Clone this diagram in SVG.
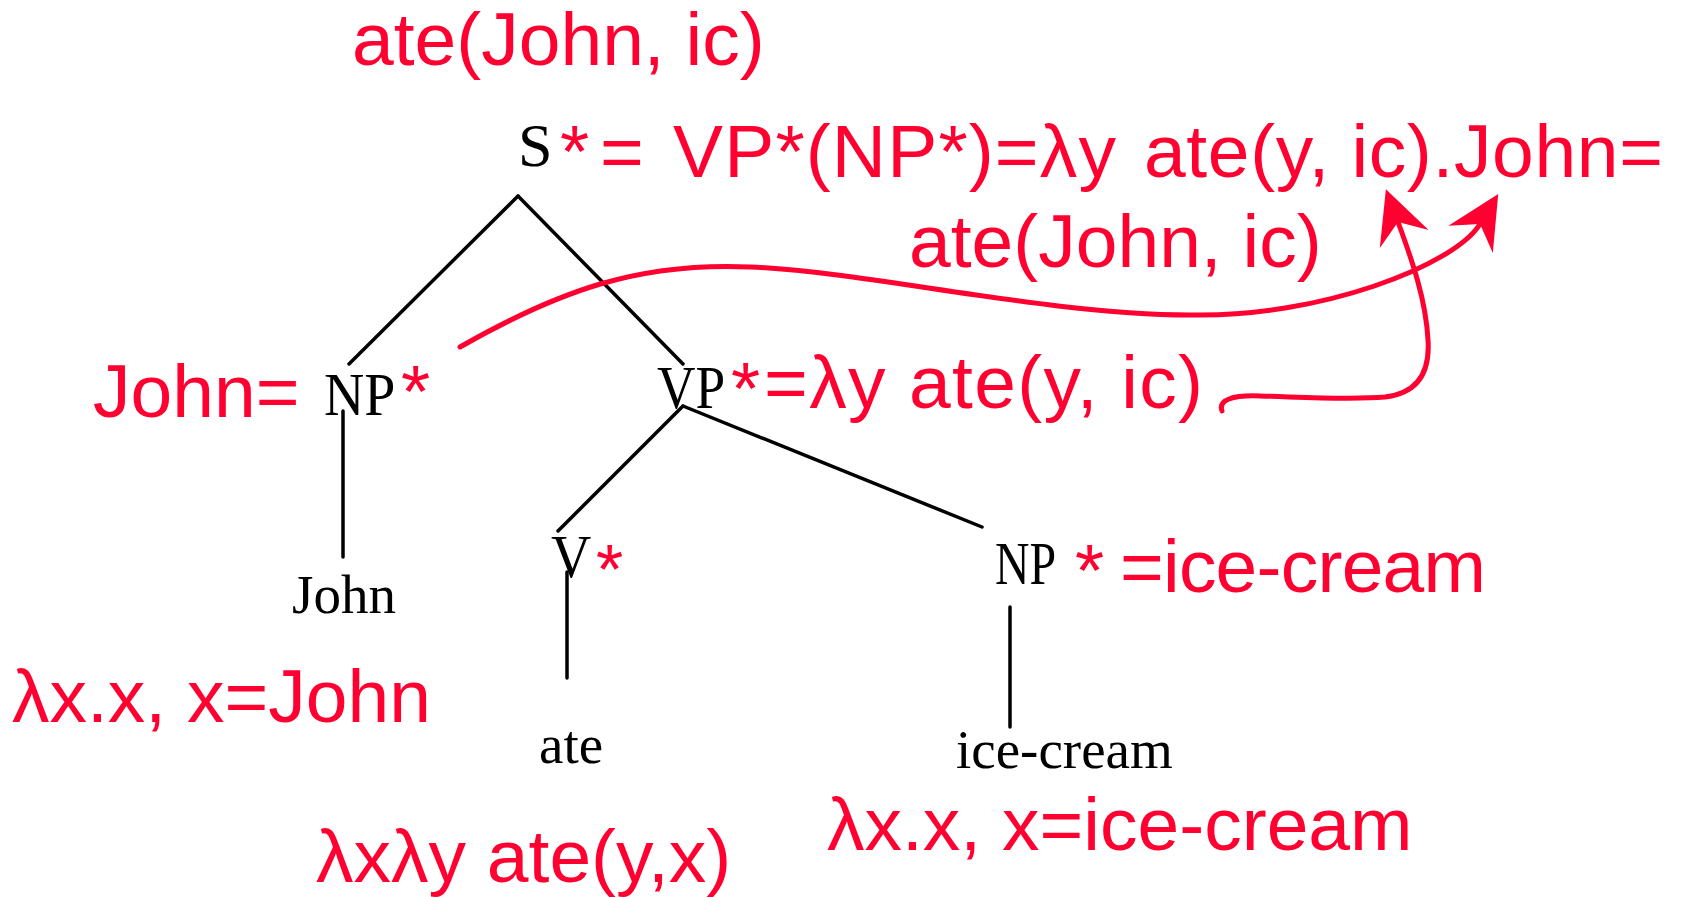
<svg xmlns="http://www.w3.org/2000/svg" width="1683" height="897" viewBox="0 0 1683 897">
<style>
.node{font-family:"Liberation Serif","Times New Roman",serif;font-size:62px;fill:#000}
.leaf{font-family:"Liberation Serif","Times New Roman",serif;font-size:55px;fill:#000}
.red{font-family:"Liberation Sans",Arial,sans-serif;font-size:75px;fill:#ff0030}
.edge{stroke:#000;stroke-width:3.5;fill:none;stroke-linecap:round}
.arrow{stroke:#ff0030;stroke-width:5;fill:none;stroke-linecap:round}
</style>
<defs>
<marker id="ah" markerUnits="userSpaceOnUse" viewBox="-55 -30 60 60" refX="-35" refY="0" markerWidth="60" markerHeight="60" orient="auto">
<path d="M0,0 L-53,-26 L-35,0 L-53,26 Z" fill="#ff0030"/>
</marker>
</defs>
<rect width="1683" height="897" fill="#fff"/>
<g id="connectors">
<line class="edge" x1="518" y1="196" x2="349" y2="364"/>
<line class="edge" x1="518" y1="196" x2="683" y2="364"/>
<line class="edge" x1="343" y1="411" x2="343" y2="557"/>
<line class="edge" x1="683" y1="406" x2="558" y2="531"/>
<line class="edge" x1="683" y1="406" x2="982" y2="527"/>
<line class="edge" x1="567" y1="572" x2="567" y2="678"/>
<line class="edge" x1="1010" y1="607" x2="1010" y2="727"/>
<path class="arrow" marker-end="url(#ah)" d="M460,347 C560,290 640,262 750,267 C870,272 1040,314 1190,315 C1320,318 1455,265 1480,224"/>
<path class="arrow" marker-end="url(#ah)" d="M1222,411 C1218,400 1232,395 1260,396 C1300,397 1350,400 1385,397 C1420,393 1430,370 1428,340 C1426,300 1412,260 1398,222"/>
</g>
<g id="top-result"><text class="red" x="352" y="65">ate(John, ic)</text></g>
<g id="S">
<text class="node" x="518" y="166">S</text>
<text class="red" x="560" y="177">*</text>
<text class="red" y="177"><tspan x="600">=</tspan><tspan x="673" textLength="443">VP*(NP*)=λy</tspan><tspan x="1144" textLength="519">ate(y, ic).John=</tspan></text>
<text class="red" x="909" y="267">ate(John, ic)</text>
</g>
<g id="NP-john">
<text class="red" x="93" y="417">John=</text>
<text class="node" transform="translate(324,415) scale(0.9,1)" x="0" y="0">NP</text>
<text class="red" x="401" y="417">*</text>
</g>
<g id="VP">
<text class="node" transform="translate(657,408) scale(0.86,1)" x="0" y="0">VP</text>
<text class="red" x="731" y="414">*</text>
<text class="red" x="764" y="408" textLength="439">=λy ate(y, ic)</text>
</g>
<g id="V">
<text class="node" transform="translate(551,577) scale(0.9,1)" x="0" y="0">V</text>
<text class="red" x="596" y="594" style="font-size:70px">*</text>
</g>
<g id="NP-icecream">
<text class="node" transform="translate(995,584) scale(0.77,1)" x="0" y="0">NP</text>
<text class="red" x="1075" y="596">*</text>
<text class="red" x="1120" y="592" textLength="366">=ice-cream</text>
</g>
<g id="leaf-john">
<text class="leaf" x="292" y="613">John</text>
<text class="red" x="12" y="722">λx.x, x=John</text>
</g>
<g id="leaf-ate">
<text class="leaf" x="539" y="763">ate</text>
<text class="red" x="316" y="882">λxλy ate(y,x)</text>
</g>
<g id="leaf-icecream">
<text class="leaf" x="956" y="768">ice-cream</text>
<text class="red" x="827" y="850">λx.x, x=ice-cream</text>
</g>
</svg>
